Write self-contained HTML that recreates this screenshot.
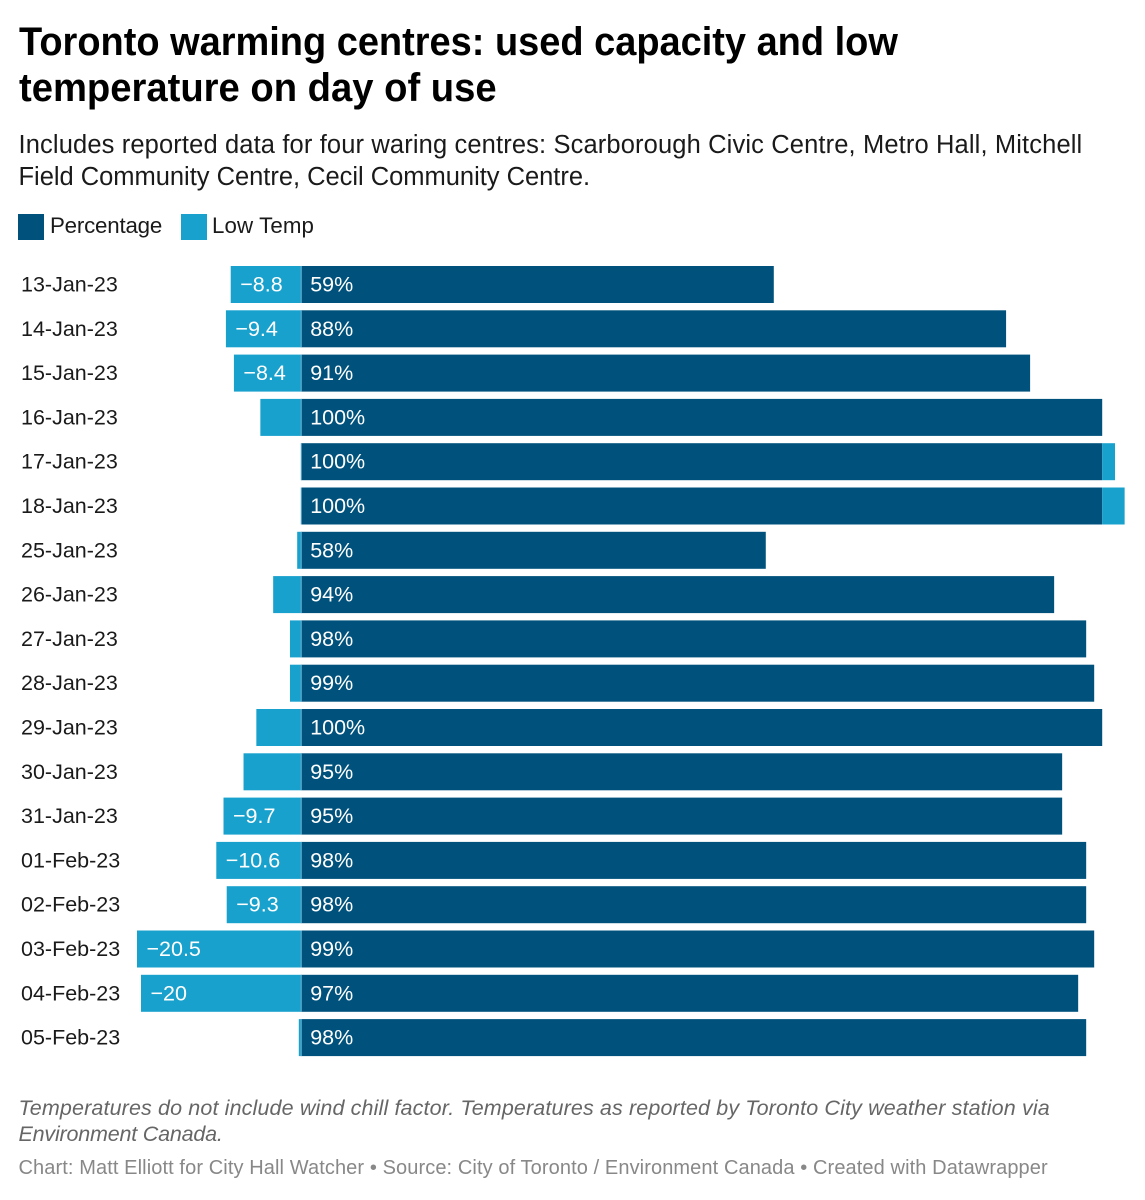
<!DOCTYPE html>
<html lang="en">
<head>
<meta charset="utf-8">
<title>Toronto warming centres</title>
<style>
html,body{margin:0;padding:0;background:#fff;}
#page{position:relative;width:1145px;height:1200px;overflow:hidden;background:#fff;font-family:"Liberation Sans",sans-serif;}
.t{position:absolute;white-space:nowrap;margin:0;font-weight:normal;}
.title{left:19px;font-size:40px;font-weight:bold;line-height:46px;color:#000;transform-origin:0 50%;}
.sub{font-size:25.5px;line-height:32px;color:#1a1a1a;}
.leg{font-size:22.3px;line-height:26px;top:213px;color:#1a1a1a;}
.sw{position:absolute;top:214px;width:26px;height:26px;}
.note{font-size:21.5px;line-height:26px;font-style:italic;color:#666;}
.by{left:18.5px;font-size:20px;line-height:26px;color:#888;letter-spacing:0.1px;}
svg{position:absolute;left:0;top:0;}
</style>
</head>
<body>
<div id="page">
  <h1 class="t title" style="top:18.5px;transform:scaleX(0.949)">Toronto warming centres: used capacity and low</h1>
  <h1 class="t title" style="top:64.5px;transform:scaleX(0.955)">temperature on day of use</h1>
  <p class="t sub" style="left:18.5px;top:128.5px;letter-spacing:0.13px">Includes reported data for four waring centres: Scarborough Civic Centre, Metro Hall, Mitchell</p>
  <p class="t sub" style="left:18.5px;top:160.5px;letter-spacing:-0.02px">Field Community Centre, Cecil Community Centre.</p>

  <div class="sw" style="left:18px;background:#00527c"></div>
  <span class="t leg" style="left:50px;letter-spacing:-0.2px">Percentage</span>
  <div class="sw" style="left:181px;background:#18a1cd"></div>
  <span class="t leg" style="left:212px;letter-spacing:0.1px">Low Temp</span>

  <svg id="chart" width="1145" height="1200" viewBox="0 0 1145 1200"></svg>

  <p class="t note" style="left:18.5px;top:1095px;letter-spacing:0.13px">Temperatures do not include wind chill factor. Temperatures as reported by Toronto City weather station via</p>
  <p class="t note" style="left:18.5px;top:1121px;letter-spacing:-0.2px">Environment Canada.</p>
  <p class="t by" style="top:1155px">Chart: Matt Elliott for City Hall Watcher • Source: City of Toronto / Environment Canada • Created with Datawrapper</p>
</div>
<script>
const categories = ["13-Jan-23","14-Jan-23","15-Jan-23","16-Jan-23","17-Jan-23","18-Jan-23","25-Jan-23","26-Jan-23","27-Jan-23","28-Jan-23","29-Jan-23","30-Jan-23","31-Jan-23","01-Feb-23","02-Feb-23","03-Feb-23","04-Feb-23","05-Feb-23"];
const percentageValues = [59,88,91,100,100,100,58,94,98,99,100,95,95,98,98,99,97,98];
const lowTempValues = [-8.8,-9.4,-8.4,-5.1,1.6,2.8,-0.5,-3.5,-1.4,-1.4,-5.6,-7.2,-9.7,-10.6,-9.3,-20.5,-20,-0.3];

const NS = 'http://www.w3.org/2000/svg';
const svg = document.getElementById('chart');
const DARK = '#00527c', LIGHT = '#18a1cd';
const xScale = function (v) { return 301.2 + v * 8.01; };
const yBand = function (i) { return 266 + i * 44.3; };
const BAND = 37;
const FONT = '"Liberation Sans", sans-serif';

function rect(x0, x1, y, fill) {
  const r = document.createElementNS(NS, 'rect');
  r.setAttribute('x', Math.min(x0, x1));
  r.setAttribute('y', y);
  r.setAttribute('width', Math.abs(x1 - x0));
  r.setAttribute('height', BAND);
  r.setAttribute('fill', fill);
  svg.appendChild(r);
  return r;
}
function label(x, y, s, fill) {
  const t = document.createElementNS(NS, 'text');
  t.setAttribute('x', x);
  t.setAttribute('y', y);
  t.setAttribute('fill', fill);
  t.setAttribute('font-family', FONT);
  t.setAttribute('font-size', '21.5');
  t.textContent = s;
  svg.appendChild(t);
  return t;
}

categories.forEach(function (cat, i) {
  const y = yBand(i);
  const base = y + BAND / 2 + 7;
  const pct = percentageValues[i];
  const temp = lowTempValues[i];

  const rowLabel = label(21, base, cat, '#1a1a1a');
  
  

  const pctBar = rect(xScale(0), xScale(pct), y, DARK);
  
  

  const tempStart = temp >= 0 ? xScale(pct) : xScale(0);
  const tempEnd = temp >= 0 ? xScale(pct + temp) : xScale(temp);
  const tempBar = rect(tempStart, tempEnd, y, LIGHT);
  
  

  const sep = rect(xScale(0) - 0.5, xScale(0) + 0.5, y, '#6fb6d6');
  
  

  const pctText = label(xScale(0) + 9, base, pct + '%', '#ffffff');
  
  

  if (temp <= -8) {
    const tempText = label(xScale(temp) + 9.5, base, '\u2212' + Math.abs(temp), '#ffffff');
    
    
  }
});
</script>
</body>
</html>
